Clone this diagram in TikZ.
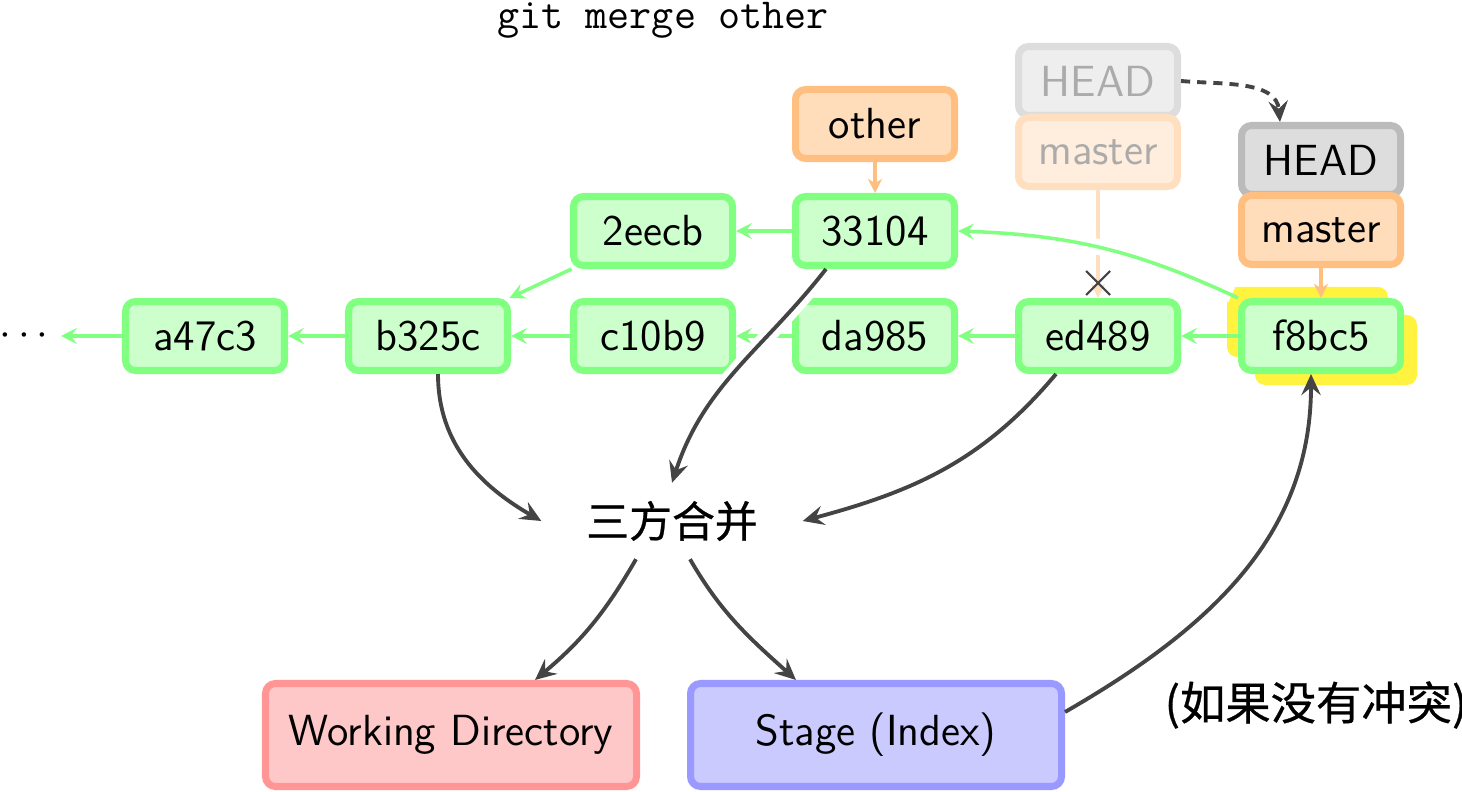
\documentclass[tikz,border=0pt]{standalone}
\usepackage{fontspec}
\newfontfamily\cjk[FakeBold=0.6]{Noto Sans CJK SC}
\usepackage{tikz}
\usetikzlibrary{positioning}
\usetikzlibrary{arrows.meta}

\definecolor{commitfill}{HTML}{CCFFCC}
\definecolor{commitline}{HTML}{80FF80}
\definecolor{branchfill}{HTML}{FFDDBB}
\definecolor{branchline}{HTML}{FFBF80}
\definecolor{headfill}{HTML}{DDDDDD}
\definecolor{headline}{HTML}{BBBBBB}
\definecolor{wdfill}{HTML}{FFC8C8}
\definecolor{wdline}{HTML}{FF9595}
\definecolor{stagefill}{HTML}{CACAFF}
\definecolor{stageline}{HTML}{9999FF}
\definecolor{mergeyellow}{HTML}{FFF33F}
\definecolor{flowgray}{HTML}{444444}

\tikzset{
 box/.style={rounded corners=0.1cm, line width=2pt, minimum width=1.59cm,
  minimum height=0.69cm, inner sep=0pt, font=\fontsize{12.4}{14}\selectfont\sffamily},
 commit/.style={box, draw=commitline, fill=commitfill},
 branch/.style={box, draw=branchline, fill=branchfill},
 headref/.style={box, draw=headline, fill=headfill},
 oldhead/.style={box, draw=headline!50, fill=headfill!50, text=black!33},
 oldbranch/.style={box, draw=branchline!50, fill=branchfill!50, text=black!33},
 area/.style={box, minimum width=3.71cm, minimum height=1.03cm},
 parent/.style={draw=commitline, line width=1pt,
  -{Stealth[length=4.5pt,width=4.5pt,inset=1.7pt]}},
 pointer/.style={draw=branchline, line width=0.9pt,
  -{Stealth[length=4pt,width=4pt,inset=1.2pt]}},
 flow/.style={draw=flowgray, line width=1.1pt,
  -{Stealth[length=6pt,width=5.5pt,inset=2.2pt]}},
 halo/.style={preaction={draw=white, line width=4.5pt, -, shorten >=2pt, shorten <=2pt}},
}

\begin{document}
\begin{tikzpicture}
\useasboundingbox (0,0) rectangle (14.62,-7.92);

\node[anchor=base, font=\fontsize{12.2}{14}\selectfont\ttfamily] (cmd) at (6.63,-0.29) {git merge other};

% merge commit shadow
\fill[mergeyellow, rounded corners=0.1cm] (12.27,-2.87) rectangle (13.88,-3.57);
\fill[mergeyellow, rounded corners=0.1cm] (12.55,-3.15) rectangle (14.17,-3.85);

\node (more) at (0.24,-3.36) {\fontsize{13}{14}\selectfont$\cdots$};
\node[commit] (a47c3) at (2.05,-3.36) {a47c3};
\node[commit] (b325c) at (4.28,-3.36) {b325c};
\node[commit] (c10b9) at (6.53,-3.36) {c10b9};
\node[commit] (da985) at (8.75,-3.36) {da985};
\node[commit] (ed489) at (10.98,-3.36) {ed489};
\node[commit] (f8bc5) at (13.21,-3.36) {f8bc5};
\node[commit] (2eecb) at (6.53,-2.31) {2eecb};
\node[commit] (33104) at (8.75,-2.31) {33104};

\node[branch] (other) at (8.75,-1.24) {other};
\node[oldhead] (oldhead) at (10.98,-0.81) {HEAD};
\node[oldbranch] (oldmaster) at (10.98,-1.52) {master};
\node[headref] (head) at (13.21,-1.60) {HEAD};
\node[branch] (master) at (13.21,-2.30) {master};

\node[minimum width=2.6cm, minimum height=0.75cm, inner sep=0pt,
 font=\fontsize{12.2}{14}\selectfont\cjk] (merge) at (6.72,-5.21) {三方合并};
\node[area, draw=wdline, fill=wdfill] (wd) at (4.51,-7.35) {Working Directory};
\node[area, draw=stageline, fill=stagefill] (stage) at (8.76,-7.35) {Stage (Index)};
\node[font=\fontsize{12.9}{14}\selectfont\cjk] (noconflict) at (13.16,-7.05) {(如果没有冲突)};

\draw[parent] (a47c3) -- (more);
\draw[parent] (b325c) -- (a47c3);
\draw[parent] (c10b9) -- (b325c);
\draw[parent] (da985) -- (c10b9);
\draw[parent] (ed489) -- (da985);
\draw[parent] (f8bc5) -- (ed489);
\draw[parent] (2eecb) -- (b325c);
\draw[parent] (33104) -- (2eecb);

\draw[pointer] (other) -- (33104);
\draw[pointer] (master) -- (f8bc5);
\draw[pointer, draw=branchline!50] (oldmaster) -- (ed489);
\draw[parent, halo] (f8bc5.north west) to[out=155, in=-2] (33104.east);
\coordinate (cut) at (10.98,-2.83);
\draw[flowgray, line width=0.6pt] ([shift={(-0.12,0.12)}]cut) -- ([shift={(0.12,-0.12)}]cut)
 ([shift={(-0.12,-0.12)}]cut) -- ([shift={(0.12,0.12)}]cut);

\draw[flow, dashed, dash pattern=on 2.6pt off 2pt] (oldhead.east) to[out=-5, in=95] ([xshift=-0.41cm]head.north);

\draw[flow] ([xshift=0.1cm]b325c.south) to[out=-90, in=150] (merge.west);
\draw[flow, halo] ([xshift=-0.49cm]33104.south) to[out=-128, in=72] (merge.north);
\draw[flow] ([xshift=-0.42cm]ed489.south) to[out=-130, in=15] (merge.east);
\draw[flow] ([xshift=-0.36cm]merge.south) to[out=-120, in=40] ([xshift=0.84cm]wd.north);
\draw[flow] ([xshift=0.18cm]merge.south) to[out=-60, in=138] ([xshift=-0.8cm]stage.north);
\draw[flow] ([yshift=0.23cm]stage.east) to[out=30, in=-90] ([xshift=-0.1cm]f8bc5.south);
\end{tikzpicture}
\end{document}
